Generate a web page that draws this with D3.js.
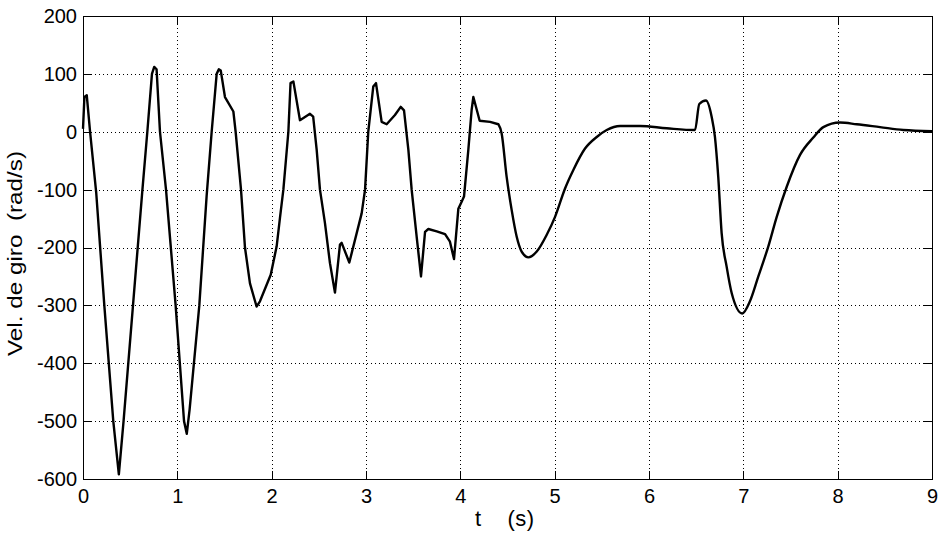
<!DOCTYPE html>
<html>
<head>
<meta charset="utf-8">
<script src="https://cdn.jsdelivr.net/npm/d3@7"></script>
<style>
  html, body { margin: 0; padding: 0; background: #fff; }
  svg { display: block; }
  text { font-family: "Liberation Sans", Arial, Helvetica, sans-serif; fill: #000; }
</style>
</head>
<body>
<svg id="chart" width="944" height="538"></svg>
<script>
// ---- data ----
const xTicks = [0, 1, 2, 3, 4, 5, 6, 7, 8, 9];
const yTicks = [200, 100, 0, -100, -200, -300, -400, -500, -600];
const xLabel = "t    (s)";
const yLabel = "Vel. de giro  (rad/s)";

const tValues = [
  0, 0.015, 0.04, 0.075, 0.14, 0.226, 0.321, 0.38, 0.43, 0.53, 0.63, 0.682, 0.731, 0.755, 0.78,
  0.816, 0.88, 0.982, 1.071, 1.10, 1.13, 1.233, 1.311, 1.364, 1.417, 1.44, 1.46,
  1.505, 1.594, 1.618, 1.675, 1.717, 1.77, 1.84, 1.876, 1.99, 2.053, 2.088, 2.124, 2.177, 2.2, 2.23,
  2.30, 2.406, 2.44, 2.477, 2.512, 2.565, 2.618, 2.671, 2.724, 2.742, 2.823, 2.954, 2.99, 3.024,
  3.077, 3.106, 3.166, 3.219, 3.307, 3.368, 3.403, 3.449, 3.484, 3.537, 3.583, 3.626, 3.661, 3.75,
  3.838, 3.89, 3.933, 3.979, 4.014, 4.039, 4.085, 4.12, 4.138, 4.205, 4.315, 4.403, 4.438, 4.491,
  4.544, 4.597, 4.65, 4.721, 4.81, 4.916, 5.004, 5.11, 5.198, 5.322, 5.446, 5.552, 5.693, 5.905,
  6.188, 6.488, 6.533, 6.604, 6.664, 6.699, 6.734, 6.77, 6.823, 6.877, 6.989, 7.07, 7.159, 7.265,
  7.354, 7.46, 7.601, 7.742, 7.848, 8.025, 8.202, 8.449, 8.696, 9.0
];
const velValues = [
  5, 60, 63, 0, -105, -300, -500, -592, -500, -300, -100, 0, 100, 112, 108,
  0, -100, -300, -500, -522, -480, -300, -110, 0, 100, 108, 106,
  60, 35, 0, -100, -200, -262, -302, -293, -247, -198, -149, -100, 0, 84, 87,
  20, 31, 26, -31, -100, -158, -227, -278, -195, -192, -226, -141, -100, 0,
  78, 84, 17, 13, 29, 43, 37, -31, -100, -181, -250, -173, -168, -172,
  -177, -190, -220, -133, -121, -112, -31, 38, 60, 19, 17, 13, -3, -78,
  -135, -181, -207, -217, -207, -178, -147, -98, -66, -29, -9, 3, 10, 10,
  6, 3, 48, 54, 26, -9, -78, -175, -233, -279, -314, -293, -250, -198,
  -147, -95, -40, -10, 8, 16, 13, 8, 3, 1
];

// ---- layout ----
const W = 944, H = 538;
const margin = { left: 83, top: 16, right: 12, bottom: 59 };
const iw = W - margin.left - margin.right;
const ih = H - margin.top - margin.bottom;

const svg = d3.select("#chart");
svg.append("rect").attr("width", W).attr("height", H).attr("fill", "#fff");
const g = svg.append("g").attr("transform", `translate(${margin.left},${margin.top})`);

const x = d3.scaleLinear().domain([0, 9]).range([0, iw]);
const y = d3.scaleLinear().domain([-600, 200]).range([ih, 0]);

// grid
const grid = g.append("g").attr("stroke", "#000").attr("stroke-width", 1)
  .attr("stroke-dasharray", "1,3").attr("shape-rendering", "crispEdges");
xTicks.slice(1, -1).forEach(t => {
  grid.append("line").attr("x1", Math.round(x(t)) + 0.5).attr("x2", Math.round(x(t)) + 0.5)
    .attr("y1", 0).attr("y2", ih);
});
yTicks.slice(1, -1).forEach(v => {
  grid.append("line").attr("y1", Math.round(y(v)) + 0.5).attr("y2", Math.round(y(v)) + 0.5)
    .attr("x1", 0).attr("x2", iw);
});

// axes (ticks inward)
const fs = 20;
const fmt = d => String(d);
const axB = g.append("g").attr("transform", `translate(0,${ih})`)
  .call(d3.axisBottom(x).tickValues(xTicks).tickSize(-8).tickPadding(10).tickFormat(fmt));
const axT = g.append("g")
  .call(d3.axisTop(x).tickValues(xTicks).tickSize(-8).tickFormat(""));
const axL = g.append("g")
  .call(d3.axisLeft(y).tickValues(yTicks).tickSize(-8).tickPadding(6).tickFormat(fmt));
const axR = g.append("g").attr("transform", `translate(${iw},0)`)
  .call(d3.axisRight(y).tickValues(yTicks).tickSize(-8).tickFormat(""));
[axB, axT, axL, axR].forEach(a => {
  a.select(".domain").remove();
  a.selectAll("line").attr("stroke", "#000").attr("shape-rendering", "crispEdges");
  a.selectAll("text").attr("font-size", fs).attr("font-family", "'Liberation Sans', Arial, sans-serif").attr("fill", "#000");
});

// box
g.append("rect").attr("x", 0.5).attr("y", 0.5).attr("width", iw).attr("height", ih)
  .attr("fill", "none").attr("stroke", "#000").attr("stroke-width", 1).attr("shape-rendering", "crispEdges");

// line: sharp oscillation part drawn straight, smooth decay parts drawn with monotone curve
const data = tValues.map((t, i) => [t, velValues[i]]);
const splitT = 4.403;
const part1 = data.filter(d => d[0] <= splitT);
const part2 = data.filter(d => d[0] >= splitT);
const lineLin = d3.line().x(d => x(d[0])).y(d => y(d[1])).curve(d3.curveLinear);
const lineSm = d3.line().x(d => x(d[0])).y(d => y(d[1])).curve(d3.curveMonotoneX);
g.append("path").attr("d", lineLin(part1) + lineSm(part2).replace(/^M[^LC]*/, m => "L" + m.slice(1)))
  .attr("fill", "none").attr("stroke", "#000").attr("stroke-width", 2.4)
  .attr("stroke-linejoin", "round");

// labels
svg.append("text").attr("x", 504.5).attr("y", 526)
  .attr("text-anchor", "middle").attr("font-size", 22)
  .attr("textLength", 59).attr("lengthAdjust", "spacing")
  .style("white-space", "pre").text(xLabel);
svg.append("text").attr("transform", `translate(22,253.5) rotate(-90)`)
  .attr("text-anchor", "middle").attr("font-size", 21)
  .attr("textLength", 205).attr("lengthAdjust", "spacingAndGlyphs")
  .style("white-space", "pre").text(yLabel);
</script>
</body>
</html>
